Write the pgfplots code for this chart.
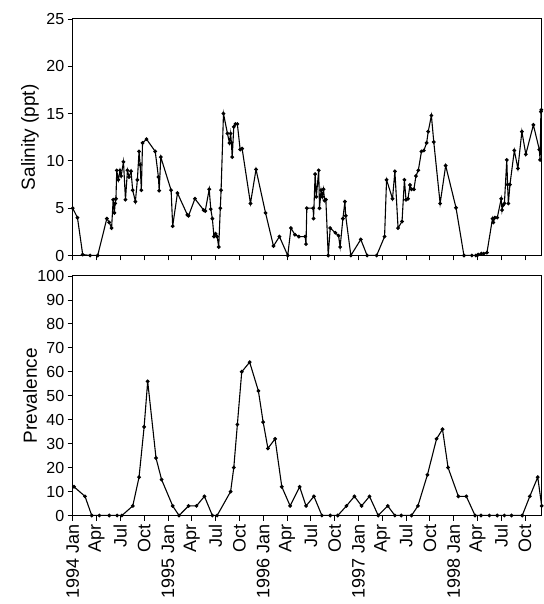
\documentclass[border=0pt]{standalone}
\usepackage{fontspec}
\setmainfont{Liberation Sans}
\usepackage{pgfplots}
\pgfplotsset{compat=1.18}

\pgfplotsset{
  panel/.style={
    scale only axis,
    width=469pt,
    xmin=0, xmax=59.1,
    xtick={0,3,...,57},
    xtick pos=bottom, ytick pos=left,
    tick align=outside,
    major tick length=5pt,
    axis line style={line width=1pt},
    every tick/.style={line width=0.8pt, black},
    /pgf/number format/assume math mode=true,
    yticklabel style={font=\fontsize{16}{16}\selectfont},
    ylabel style={font=\fontsize{19}{19}\selectfont, at={(axis description cs:-0.091,0.5)}, anchor=center},
  },
  series/.style={black, line width=1.1pt, mark=*, mark size=1.3pt, mark options={solid, fill=black}},
}

\begin{document}
\begin{tikzpicture}
\useasboundingbox (0,0) rectangle (543pt,604pt);

% salinity
\begin{axis}[panel,
  at={(72.7pt,348.5pt)}, anchor=south west,
  height=236.5pt,
  ymin=0, ymax=25, ytick={0,5,...,25},
  xticklabels={},
  ylabel={Salinity (ppt)}]
\addplot[series] coordinates {
(0,5.0) (0.6,4.0) (1.26,0.1) (2.2,0) (3.15,0) (4.3,3.9) (4.6,3.5) (4.9,2.9)
(5.1,5.9) (5.25,4.5) (5.35,5.5) (5.45,6.0) (5.55,9.0) (5.75,8.0) (5.96,9.0) (6.1,8.4)
(6.4,9.9) (6.65,5.9) (6.9,9.0) (7.1,8.3) (7.35,8.9) (7.56,6.9) (7.9,5.7) (8.15,8.0)
(8.36,11.0) (8.5,9.6) (8.65,6.9) (8.8,11.9) (9.3,12.3) (10.4,11.0) (10.8,8.3) (10.9,6.85)
(11.1,10.4) (12.4,6.9) (12.6,3.1) (13.2,6.6) (14.45,4.3) (14.6,4.2) (15.4,6.0) (16.5,4.8)
(16.7,4.7) (17.2,7.0) (17.4,4.9) (17.6,3.9) (17.8,2.0) (18.0,2.3) (18.2,2.0) (18.4,0.9)
(18.6,5.0) (18.7,6.9) (19.0,15.0) (19.5,12.9) (19.75,11.9) (19.9,12.9) (20.0,11.9) (20.1,10.4)
(20.3,13.6) (20.5,13.9) (20.75,13.9) (21.1,11.2) (21.35,11.3) (22.4,5.5) (23.1,9.1) (24.3,4.5)
(25.3,1.0) (26.05,2.0) (27.1,0) (27.5,2.9) (28.0,2.2) (28.5,2.0) (29.3,2.0) (29.4,1.2)
(29.5,5.0) (30.3,5.0) (30.35,3.9) (30.55,8.6) (30.7,6.2) (31.0,9.0) (31.1,5.0) (31.3,6.9)
(31.45,6.2) (31.6,7.0) (31.75,5.8) (31.9,5.9) (32.2,0) (32.45,2.9) (33.1,2.4) (33.5,2.1)
(33.7,0.9) (34.05,3.9) (34.3,5.7) (34.4,4.2) (35.05,0) (36.3,1.7) (37.1,0) (38.3,0)
(39.3,2.0) (39.55,8.0) (40.3,6.0) (40.6,8.9) (41.0,2.9) (41.5,3.6) (41.8,8.0) (42.0,5.9)
(42.25,6.0) (42.5,7.45) (42.7,7.0) (43.0,7.0) (43.25,8.4) (43.55,9.0) (43.95,11.0) (44.25,11.1)
(44.6,11.9) (44.8,13.1) (45.2,14.8) (45.5,12.0) (46.3,5.5) (47.0,9.5) (48.3,5.05) (49.3,0)
(50.3,0) (50.8,0) (51.1,0.1) (51.5,0.2) (51.8,0.2) (52.2,0.3) (52.9,3.9) (53.0,3.5)
(53.2,4.0) (53.5,4.0) (54.0,6.0) (54.1,4.8) (54.2,5.3) (54.4,5.5) (54.7,10.1) (54.8,7.5)
(54.9,5.5) (55.1,7.5) (55.65,11.1) (56.1,9.2) (56.6,13.1) (57.1,10.7) (58.05,13.8) (58.8,11.2)
(58.9,10.1) (59.0,15.2) (59.05,15.4)
};
\end{axis}

% prevalence
\begin{axis}[panel,
  at={(72.7pt,88.5pt)}, anchor=south west,
  height=239.5pt,
  ymin=0, ymax=100, ytick={0,10,...,100},
  xticklabels={1994 Jan,Apr,Jul,Oct,1995 Jan,Apr,Jul,Oct,1996 Jan,Apr,Jul,Oct,1997 Jan,Apr,Jul,Oct,1998 Jan,Apr,Jul,Oct},
  xticklabel style={font=\fontsize{18}{18}\selectfont, rotate=90, anchor=east},
  ylabel={Prevalence}]
\addplot[series] coordinates {
(0.16,12) (1.55,8) (2.4,0) (3.36,0) (4.6,0) (5.6,0) (6.2,0) (7.57,4)
(8.36,16) (9.0,37) (9.45,56) (10.5,24) (11.2,15) (12.6,4) (13.4,0) (14.6,4)
(15.6,4) (16.6,8) (17.6,0) (18.2,0) (19.9,10) (20.3,20) (20.75,38) (21.3,60)
(22.3,64) (23.4,52) (24.0,39) (24.6,28) (25.5,32) (26.35,12) (27.4,4) (28.6,12)
(29.4,4) (30.4,8) (31.4,0) (32.45,0) (33.4,0) (34.5,4) (35.5,8) (36.4,4)
(37.4,8) (38.5,0) (39.7,4) (40.6,0) (41.4,0) (42.7,0) (43.5,4) (44.7,17)
(45.85,32) (46.6,36) (47.3,20) (48.6,8) (49.6,8) (50.7,0) (51.45,0) (52.5,0)
(53.5,0) (54.4,0) (55.3,0) (56.65,0) (57.6,8) (58.6,16) (59.1,4)
};
\end{axis}
\end{tikzpicture}
\end{document}
